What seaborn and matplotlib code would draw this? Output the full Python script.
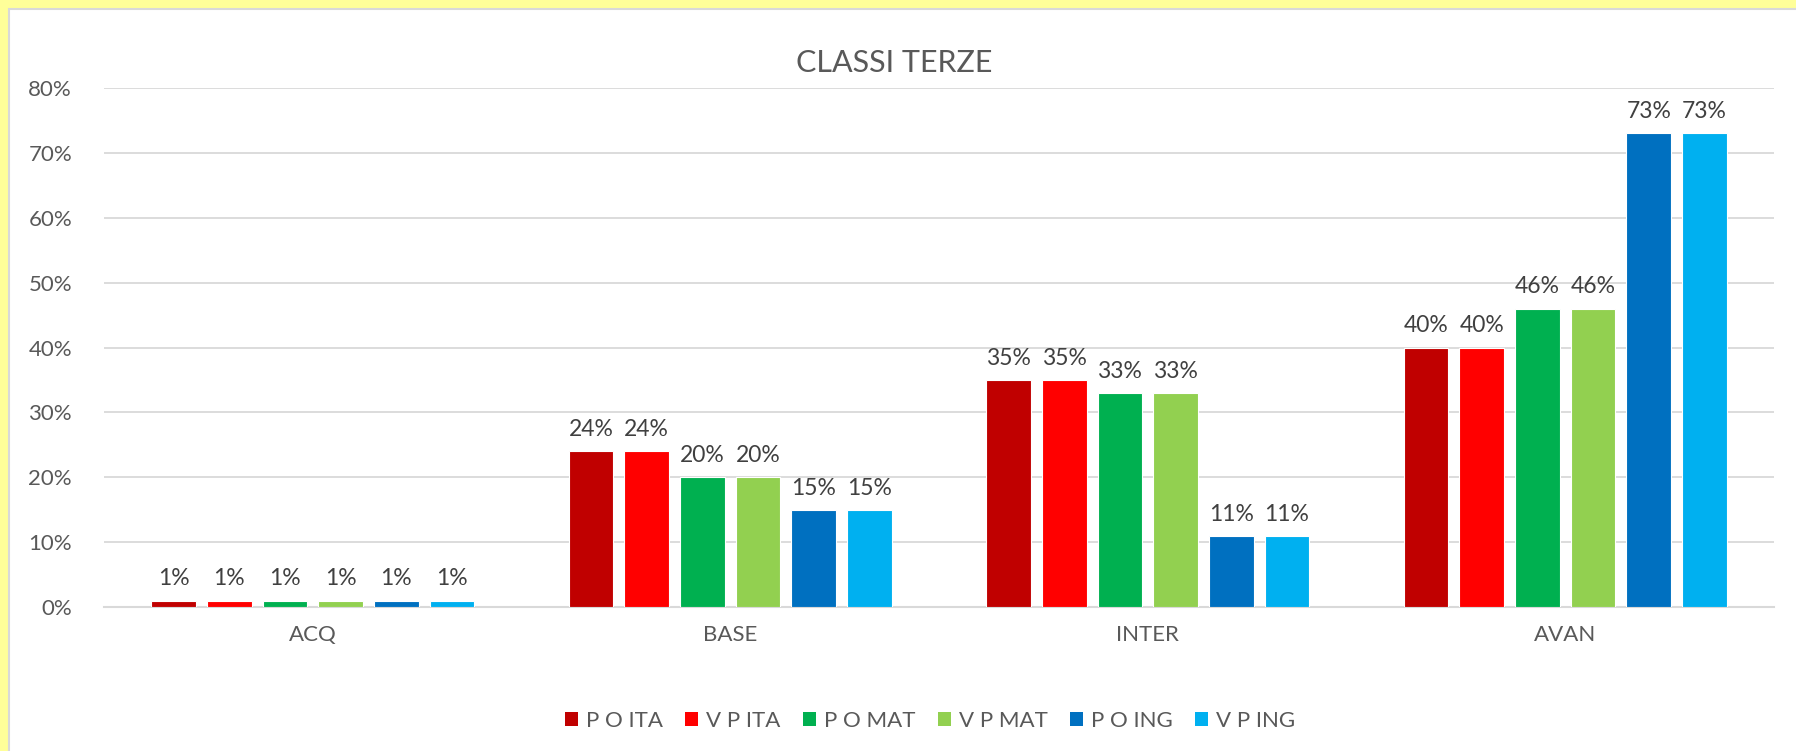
import matplotlib
matplotlib.use("Agg")
import matplotlib.pyplot as plt
from matplotlib.patches import Rectangle
from matplotlib.ticker import PercentFormatter
import seaborn as sns
import pandas as pd

categories = ["ACQ", "BASE", "INTER", "AVAN"]
series_names = ["P O ITA", "V P ITA", "P O MAT", "V P MAT", "P O ING", "V P ING"]
p_o_ita = [0.01, 0.24, 0.35, 0.40]
v_p_ita = [0.01, 0.24, 0.35, 0.40]
p_o_mat = [0.01, 0.20, 0.33, 0.46]
v_p_mat = [0.01, 0.20, 0.33, 0.46]
p_o_ing = [0.01, 0.15, 0.11, 0.73]
v_p_ing = [0.01, 0.15, 0.11, 0.73]
colors = ["#C00000", "#FF0000", "#00B050", "#92D050", "#0070C0", "#00B0F0"]
title = "CLASSI TERZE"

series_values = [p_o_ita, v_p_ita, p_o_mat, v_p_mat, p_o_ing, v_p_ing]
rows = []
for name, vals in zip(series_names, series_values):
    for c, v in zip(categories, vals):
        rows.append({"cat": c, "serie": name, "val": v})
df = pd.DataFrame(rows)

sns.set_theme(style="white")
plt.rcParams["font.family"] = ["Lato", "DejaVu Sans"]

W, H = 1796, 751
fig = plt.figure(figsize=(W / 100, H / 100), dpi=100, facecolor="#FFFF99")
bg = Rectangle((9 / W, -0.01), 1.05, 1 - 9 / H + 0.01, transform=fig.transFigure,
               facecolor="white", edgecolor="#D9D9D9", linewidth=1.5, zorder=-10)
fig.patches.append(bg)

ax = fig.add_axes([104 / W, 1 - 607 / H, (1774 - 104) / W, (607 - 88) / H])
ax.set_zorder(5)
ax.set_facecolor("none")
sns.barplot(data=df, x="cat", y="val", hue="serie", order=categories, hue_order=series_names,
            palette=colors, saturation=1, width=0.8, gap=0.2, ax=ax, edgecolor="white",
            linewidth=0.8, legend=False, zorder=3)

for cont in ax.containers:
    vals = [b.get_height() for b in cont]
    ax.bar_label(cont, labels=[f"{v * 100:.0f}%" for v in vals], padding=8,
                 fontsize=16.5, color="#404040")

ax.set_ylim(0, 0.8)
ax.set_xlim(-0.5, 3.5)
ax.set_yticks([i / 10 for i in range(9)])
ax.yaxis.set_major_formatter(PercentFormatter(1.0, decimals=0))
ax.grid(axis="y", color="#D9D9D9", linewidth=1.3, zorder=0)
ax.set_axisbelow(True)
for s in ["top", "right", "left"]:
    ax.spines[s].set_visible(False)
ax.spines["bottom"].set_color("#D9D9D9")
ax.spines["bottom"].set_linewidth(1.5)
ax.tick_params(axis="y", length=0, pad=23, labelsize=16, labelcolor="#595959")
ax.tick_params(axis="x", length=0, pad=13, labelsize=16, labelcolor="#595959")
ax.set_xlabel("")
ax.set_ylabel("")

fig.text(894 / W, 1 - 63 / H, title, ha="center", va="center", fontsize=22, color="#595959")

handles = [Rectangle((0, 0), 1, 1, facecolor=c, edgecolor="none") for c in colors]
fig.legend(handles, series_names, loc="center", bbox_to_anchor=(930 / W, 1 - 721 / H), ncol=6,
           frameon=False, fontsize=16, labelcolor="#595959", handlelength=0.6, handleheight=0.6,
           handletextpad=0.35, columnspacing=1.0)

fig.savefig("out.png", dpi=100, facecolor=fig.get_facecolor())
